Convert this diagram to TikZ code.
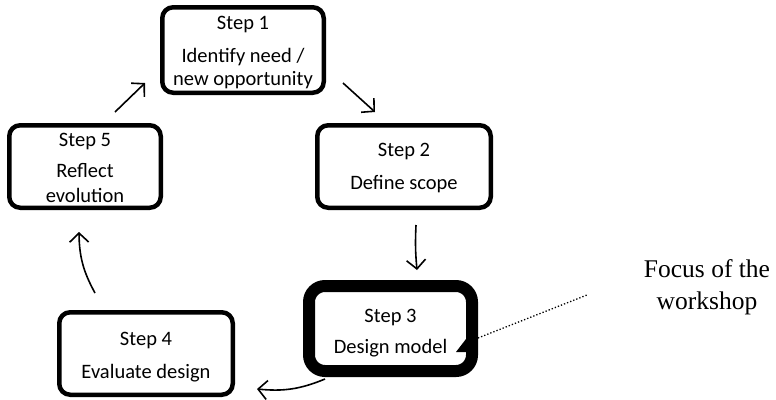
\documentclass[tikz,border=0pt]{standalone}
\usepackage{fontspec}
\setmainfont{Carlito}
\newfontfamily\tnr{Liberation Serif}
\usetikzlibrary{arrows.meta}
\tikzset{
  stepbox/.style={draw, rectangle, rounded corners=11pt, line width=4.5pt, inner sep=0pt},
  focusbox/.style={draw, rectangle, rounded corners=16pt, line width=12pt, inner sep=0pt},
  lbl/.style={anchor=base, inner sep=0pt, font=\fontsize{20.5}{24}\selectfont},
  ftxt/.style={anchor=base, inner sep=0pt, font=\tnr\fontsize{25.5}{30}\selectfont},
  flow/.style={line width=1.6pt, -{Straight Barb[length=9pt,width=19pt,line width=1.6pt]}},
}
\begin{document}
\begin{tikzpicture}[x=1pt,y=-1pt]
\useasboundingbox[fill=white] (0,0) rectangle (776,399);
% boxes
\node[stepbox, minimum width=161.5pt, minimum height=85.5pt] (b1) at (243,50) {};
\node[stepbox, minimum width=173.5pt, minimum height=82.5pt] (b2) at (404,166.5) {};
\node[focusbox, minimum width=163pt, minimum height=85pt] (b3) at (390.5,328.5) {};
\node[stepbox, minimum width=173.5pt, minimum height=82.5pt] (b4) at (146,353.5) {};
\node[stepbox, minimum width=151.5pt, minimum height=82.5pt] (b5) at (85,166.5) {};
% texts
\node[lbl] (t1a) at (243,29) {Step 1};
\node[lbl] (t1b) at (243,62) {Identify need /};
\node[lbl] (t1c) at (243,85) {new opportunity};
\node[lbl] (t2a) at (404,156) {Step 2};
\node[lbl] (t2b) at (404,189) {Define scope};
\node[lbl] (t3a) at (390.5,322) {Step 3};
\node[lbl] (t3b) at (390.5,353) {Design model};
\node[lbl] (t4a) at (146,345) {Step 4};
\node[lbl] (t4b) at (146,378) {Evaluate design};
\node[lbl] (t5a) at (85,146) {Step 5};
\node[lbl] (t5b) at (85,177) {Reflect};
\node[lbl] (t5c) at (85,202) {evolution};
% notch of the callout
\fill (466,339) -- (456,352) -- (466,352) -- cycle;
% focus text
\node[ftxt] (f1) at (707,277) {Focus of the};
\node[ftxt] (f2) at (707,309) {workshop};
% arrow ends
\coordinate (a12s) at (343,83);
\coordinate (a12e) at (375,112);
\coordinate (a23s) at (416,225);
\coordinate (a23e) at (417,270);
\coordinate (a34s) at (325,379);
\coordinate (a34e) at (257,389);
\coordinate (a45s) at (95,293);
\coordinate (a45e) at (79,232);
\coordinate (a51s) at (115,112);
\coordinate (a51e) at (145,83);
\coordinate (ds) at (478,338);
\coordinate (de) at (587,295);
\draw[flow] (a12s) -- (a12e);
\draw[flow] (a23s) to[bend right=4] (a23e);
\draw[flow] (a34s) to[bend left=14] (a34e);
\draw[flow] (a45s) to[bend left=14] (a45e);
\draw[flow] (a51s) -- (a51e);
\draw[dotted, line width=1.3pt] (ds) -- (de);
\end{tikzpicture}
\end{document}
